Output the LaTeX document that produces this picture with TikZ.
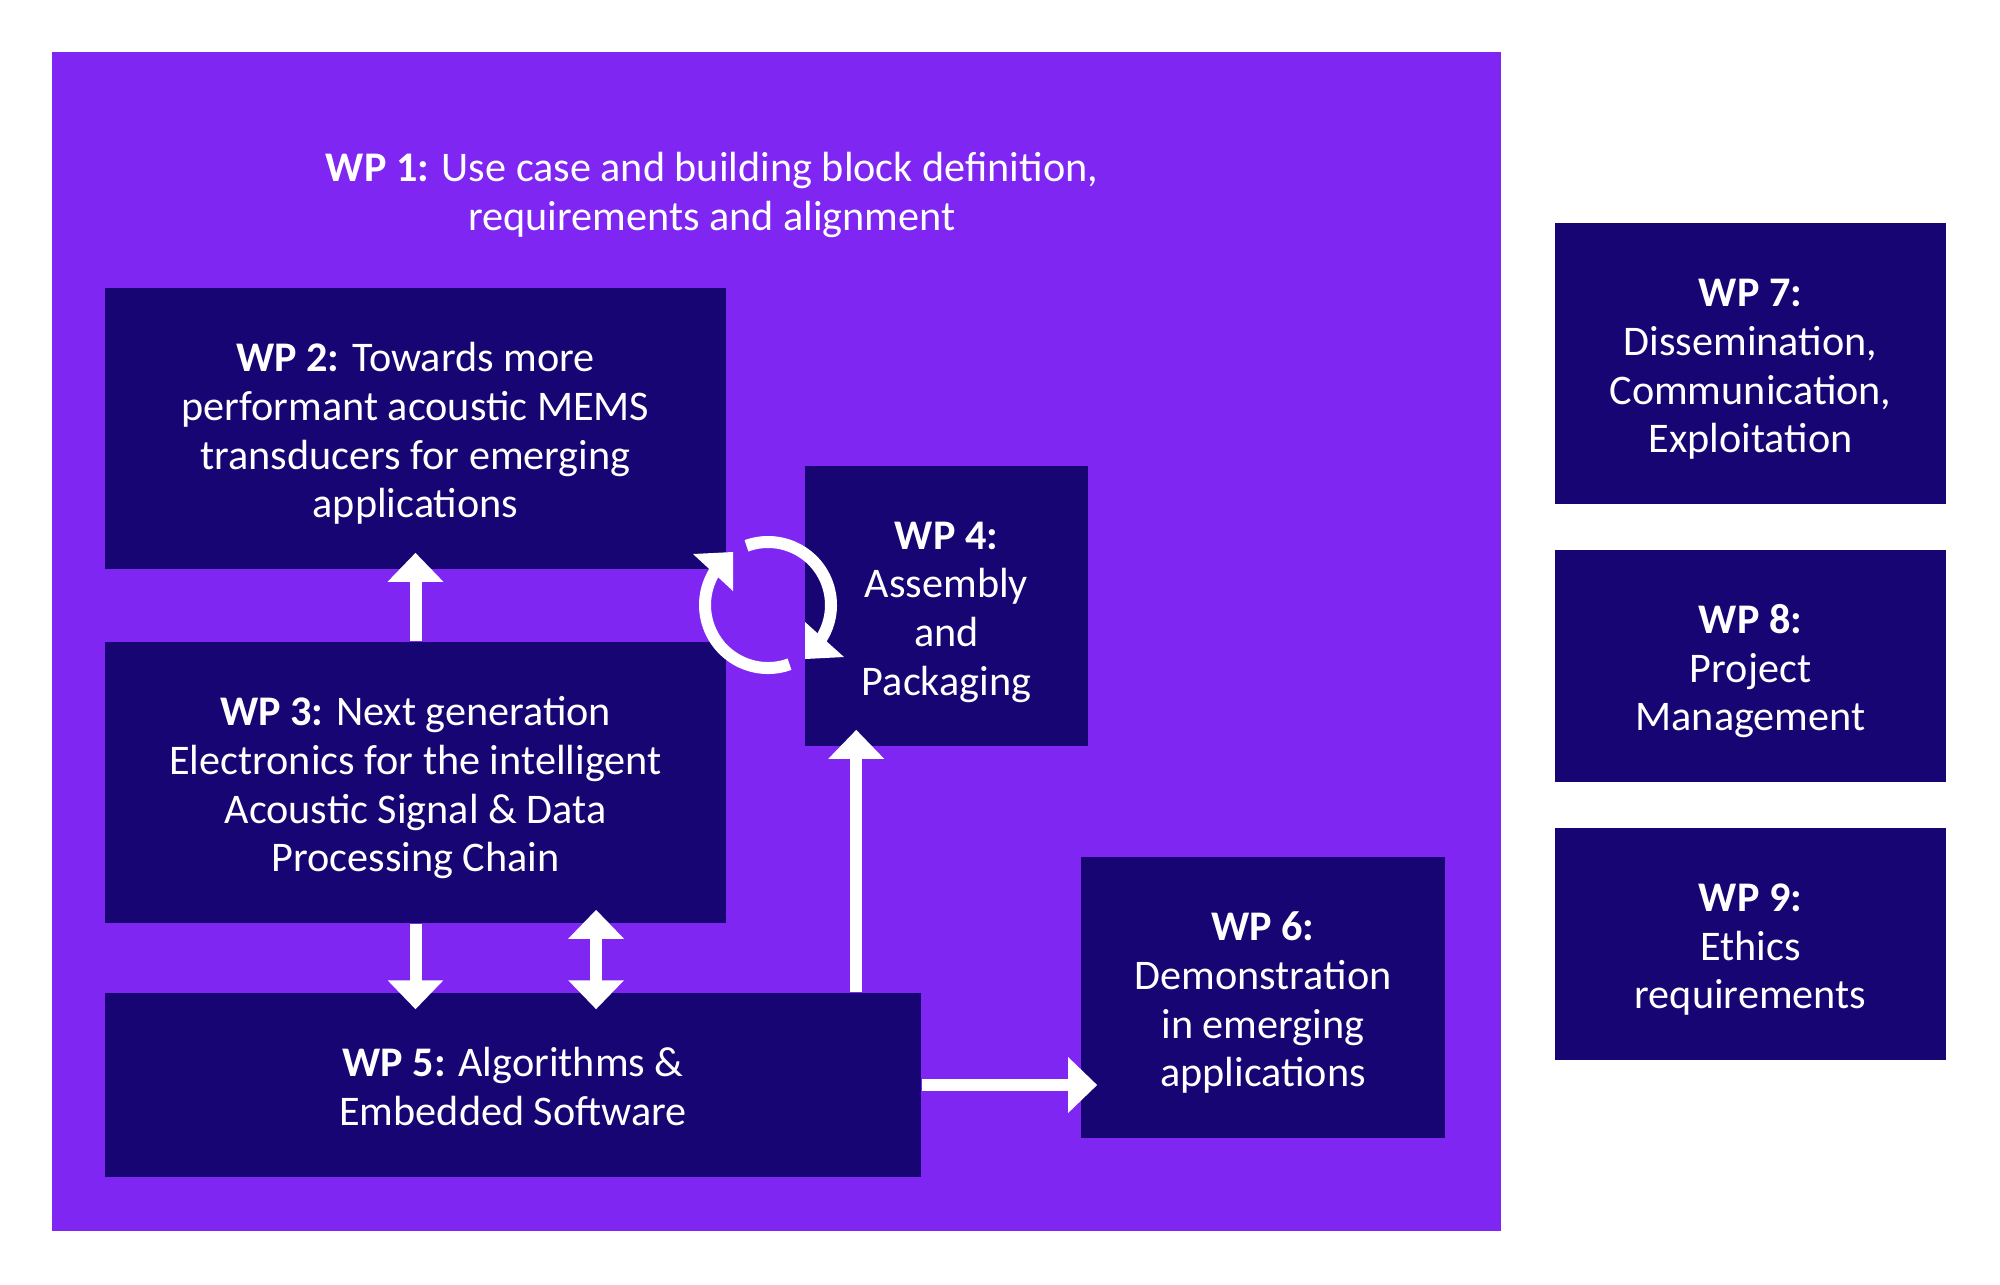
\documentclass[tikz,border=0pt]{standalone}
\usepackage{fontspec}
\setmainfont{Carlito}
\usepackage{tikz}
\usetikzlibrary{arrows.meta}
\definecolor{wpPurple}{RGB}{128,38,242}
\definecolor{wpNavy}{RGB}{23,5,116}
\newcommand{\wpfont}{\fontsize{12}{13.85}\selectfont}
\newcommand{\wptag}[1]{\rule{0pt}{12.4pt}\textbf{WP #1:}}

\tikzset{
  wptip/.tip={Triangle[length=0.29cm,width=0.54cm]},
  wpbox/.style={fill=wpNavy, text=white, align=center, inner sep=0pt, font=\wpfont,
    execute at end node={\rule[-3.2pt]{0pt}{0pt}}},
  wplink/.style={white, line width=0.12cm, -wptip, shorten >=-0.17cm},
}

\begin{document}
\begin{tikzpicture}[x=0.01cm, y=-0.01cm]
  \useasboundingbox (0,0) rectangle (2000,1284);

  % WP 1 frame + title
  \fill[wpPurple] (52,52) rectangle (1501,1231);
  \node[text=white, align=center, font=\wpfont] (wp1) at (712,195)
    {\textbf{WP 1:} Use case and building block definition,\\requirements and alignment};

  % Work packages inside WP 1
  \node[wpbox, minimum width=6.21cm, minimum height=2.81cm] (wp2) at (415.5,428.5)
    {\wptag{2} Towards more\\performant acoustic MEMS\\transducers for emerging\\applications};
  \node[wpbox, minimum width=6.21cm, minimum height=2.81cm] (wp3) at (415.5,782.5)
    {\wptag{3} Next generation\\Electronics for the intelligent\\Acoustic Signal \& Data\\Processing Chain};
  \node[wpbox, minimum width=2.83cm, minimum height=2.80cm] (wp4) at (946.5,606)
    {\wptag{4}\\Assembly\\and\\Packaging};
  \node[wpbox, minimum width=8.16cm, minimum height=1.84cm] (wp5) at (513,1085)
    {\wptag{5} Algorithms \&\\Embedded Software};
  \node[wpbox, minimum width=3.64cm, minimum height=2.81cm] (wp6) at (1263,997.5)
    {\wptag{6}\\Demonstration\\in emerging\\applications};

  % Side work packages
  \node[wpbox, minimum width=3.91cm, minimum height=2.81cm] (wp7) at (1750.5,363.5)
    {\wptag{7}\\Dissemination,\\Communication,\\Exploitation};
  \node[wpbox, minimum width=3.91cm, minimum height=2.32cm] (wp8) at (1750.5,666)
    {\wptag{8}\\Project\\Management};
  \node[wpbox, minimum width=3.91cm, minimum height=2.32cm] (wp9) at (1750.5,944)
    {\wptag{9}\\Ethics\\requirements};

  % Links
  \coordinate (dbl) at ([xshift=1.805cm]wp3.south);
  \coordinate (up4) at ([xshift=0.52cm]wp4.south west);
  \draw[wplink] (wp3.north) -- (wp2.south);
  \draw[wplink] (wp3.south) -- (wp3.south |- wp5.north);
  \draw[wplink, wptip-wptip, shorten <=-0.14cm] (dbl) -- (dbl |- wp5.north);
  \draw[wplink] (up4 |- wp5.north) -- (up4);
  \draw[wplink] (wp5.east) -- (wp5.east -| wp6.west);

  % Cycle between WP 2/3 and WP 4
  \draw[white, line width=0.12cm] (768,605) ++(-110:63) arc[start angle=-110, end angle=35, radius=63];
  \draw[white, line width=0.12cm] (768,605) ++(70:63) arc[start angle=70, end angle=215, radius=63];
  \fill[white] (693,554) -- (733,552) -- (733,591) -- cycle;
  \fill[white] (805,622) -- (805,659) -- (844,657) -- cycle;
\end{tikzpicture}
\end{document}
